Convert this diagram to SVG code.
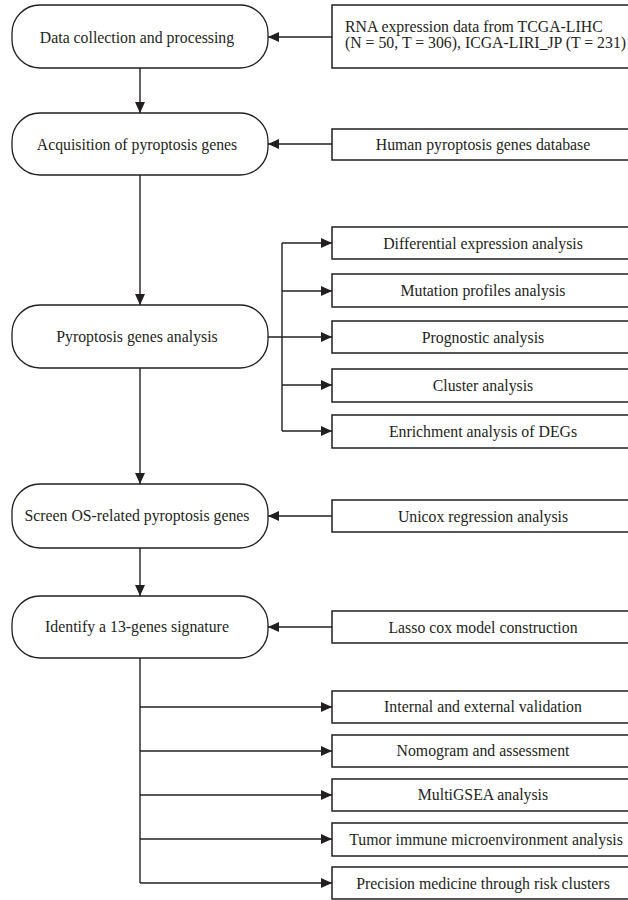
<svg xmlns="http://www.w3.org/2000/svg" width="628" height="900" viewBox="0 0 628 900">
<defs>
<style>
.node rect{fill:#fff;stroke:#231f20;stroke-width:1.3}
.box rect{fill:#fff;stroke:#231f20;stroke-width:1.5}
text{font-family:"Liberation Serif","Times New Roman",serif;font-size:15.8px;fill:#231f20}
.c{text-anchor:middle}
.conn path,.conn line{fill:none;stroke:#231f20;stroke-width:1.4}
</style>
<marker id="ah" markerUnits="userSpaceOnUse" markerWidth="11" markerHeight="10" refX="11" refY="5" orient="auto">
<path d="M0,0 L11,5 L0,10 z" fill="#231f20"/>
</marker>
</defs>
<rect width="628" height="900" fill="#fff"/>

<g class="conn">
<line x1="332" y1="37" x2="268" y2="37" marker-end="url(#ah)"/>
<line x1="140" y1="68" x2="140" y2="113" marker-end="url(#ah)"/>
<line x1="332" y1="144" x2="268" y2="144" marker-end="url(#ah)"/>
<line x1="140" y1="175" x2="140" y2="305" marker-end="url(#ah)"/>
<path d="M268,337 H282 M282,243 V431"/>
<line x1="282" y1="243" x2="332" y2="243" marker-end="url(#ah)"/>
<line x1="282" y1="291" x2="332" y2="291" marker-end="url(#ah)"/>
<line x1="282" y1="337" x2="332" y2="337" marker-end="url(#ah)"/>
<line x1="282" y1="385" x2="332" y2="385" marker-end="url(#ah)"/>
<line x1="282" y1="431" x2="332" y2="431" marker-end="url(#ah)"/>
<line x1="140" y1="368" x2="140" y2="484" marker-end="url(#ah)"/>
<line x1="332" y1="516" x2="268" y2="516" marker-end="url(#ah)"/>
<line x1="140" y1="548" x2="140" y2="596" marker-end="url(#ah)"/>
<line x1="332" y1="627" x2="268" y2="627" marker-end="url(#ah)"/>
<path d="M140,658 V883"/>
<line x1="140" y1="707" x2="332" y2="707" marker-end="url(#ah)"/>
<line x1="140" y1="751" x2="332" y2="751" marker-end="url(#ah)"/>
<line x1="140" y1="795" x2="332" y2="795" marker-end="url(#ah)"/>
<line x1="140" y1="839" x2="332" y2="839" marker-end="url(#ah)"/>
<line x1="140" y1="883" x2="332" y2="883" marker-end="url(#ah)"/>
</g>

<g id="n1" class="node"><rect x="12" y="5" width="256" height="63" rx="28"/><text class="c" x="137" y="42.5">Data collection and processing</text></g>
<g id="n2" class="node"><rect x="12" y="113" width="256" height="62" rx="28"/><text class="c" x="137" y="149.5">Acquisition of pyroptosis genes</text></g>
<g id="n3" class="node"><rect x="12" y="305" width="256" height="63" rx="28"/><text class="c" x="137" y="342">Pyroptosis genes analysis</text></g>
<g id="n4" class="node"><rect x="12" y="484" width="256" height="64" rx="28"/><text class="c" x="137" y="521">Screen OS-related pyroptosis genes</text></g>
<g id="n5" class="node"><rect x="12" y="596" width="256" height="62" rx="28"/><text class="c" x="137" y="632">Identify a 13-genes signature</text></g>

<g id="b1" class="box"><rect x="332" y="5" width="302" height="63"/><text x="345" y="32">RNA expression data from TCGA-LIHC</text><text x="345" y="48">(N = 50, T = 306), ICGA-LIRI_JP (T = 231)</text></g>
<g id="b2" class="box"><rect x="332" y="129" width="302" height="31"/><text class="c" x="483" y="149.5">Human pyroptosis genes database</text></g>
<g id="b3" class="box"><rect x="332" y="227" width="302" height="32"/><text class="c" x="483" y="248.5">Differential expression analysis</text></g>
<g id="b4" class="box"><rect x="332" y="274" width="302" height="33"/><text class="c" x="483" y="296">Mutation profiles analysis</text></g>
<g id="b5" class="box"><rect x="332" y="321" width="302" height="32"/><text class="c" x="483" y="342.5">Prognostic analysis</text></g>
<g id="b6" class="box"><rect x="332" y="369" width="302" height="33"/><text class="c" x="483" y="390.5">Cluster analysis</text></g>
<g id="b7" class="box"><rect x="332" y="415" width="302" height="33"/><text class="c" x="483" y="436.5">Enrichment analysis of DEGs</text></g>
<g id="b8" class="box"><rect x="332" y="500" width="302" height="32"/><text class="c" x="483" y="521.5">Unicox regression analysis</text></g>
<g id="b9" class="box"><rect x="332" y="611" width="302" height="32"/><text class="c" x="483" y="632.5">Lasso cox model construction</text></g>
<g id="b10" class="box"><rect x="332" y="691" width="302" height="32"/><text class="c" x="483" y="712">Internal and external validation</text></g>
<g id="b11" class="box"><rect x="332" y="735" width="302" height="32"/><text class="c" x="483" y="756">Nomogram and assessment</text></g>
<g id="b12" class="box"><rect x="332" y="779" width="302" height="32"/><text class="c" x="483" y="800">MultiGSEA analysis</text></g>
<g id="b13" class="box"><rect x="332" y="823" width="302" height="33"/><text class="c" x="486" y="844.5">Tumor immune microenvironment analysis</text></g>
<g id="b14" class="box"><rect x="332" y="867" width="302" height="32"/><text class="c" x="483" y="888.5">Precision medicine through risk clusters</text></g>
</svg>
